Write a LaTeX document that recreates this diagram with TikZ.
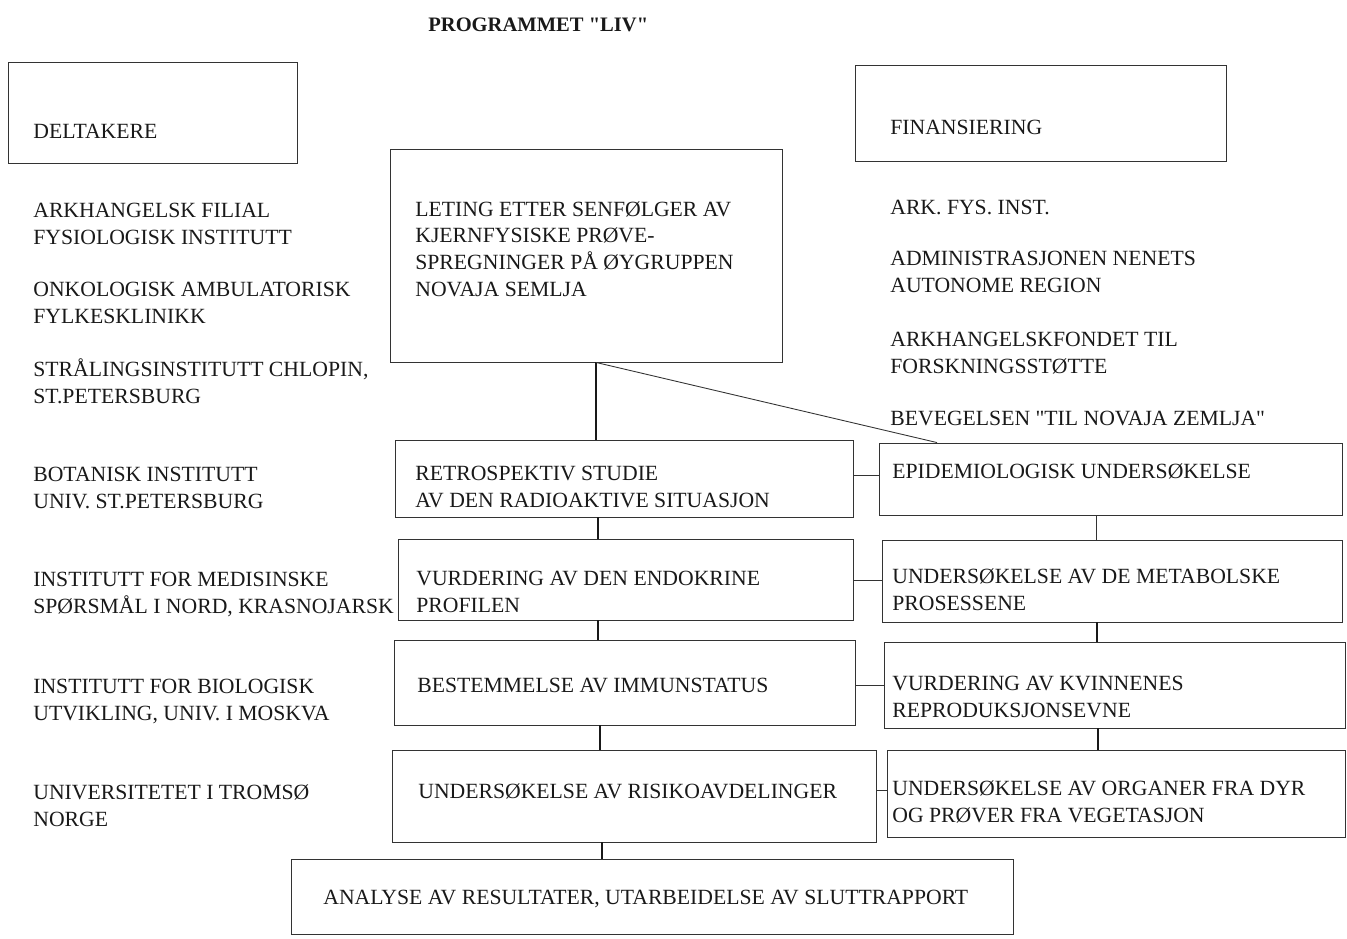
\documentclass[tikz,border=0pt]{standalone}
\usepackage{fontspec}
\setmainfont{Liberation Serif}[Ligatures=TeXOff]
\usepackage{xcolor}
\usetikzlibrary{positioning,fit,calc}

\tikzset{
  box/.style={draw=black!80, line width=0.5pt, inner sep=0pt},
  txt/.style={anchor=base west, align=left, inner sep=0pt, text=black!90, font=\fontsize{12.35}{15.1}\selectfont},
  link/.style={draw=black!80, line width=0.5pt},
  stem/.style={draw=black!90, line width=1pt}
}

\begin{document}
\begin{tikzpicture}[x=0.02cm, y=-0.02cm]
\useasboundingbox (0,0) rectangle (1347,938);

% Title
\node[txt, font=\fontsize{11.7}{14}\selectfont\bfseries] (title) at (428,31) {PROGRAMMET "LIV"};

% Header boxes
\node[box, fit={(8,62) (297,163)}] (deltakere) {};
\node[txt] (t-deltakere) at (33,138) {DELTAKERE};
\node[box, fit={(855,65) (1226,161)}] (finans) {};
\node[txt] (t-finans) at (890,134) {FINANSIERING};

% Participants (base = last line)
\node[txt] (p1) at (33,244) {ARKHANGELSK FILIAL\\FYSIOLOGISK INSTITUTT};
\node[txt] (p2) at (33,323) {ONKOLOGISK AMBULATORISK\\FYLKESKLINIKK};
\node[txt] (p3) at (33,403) {STRÅLINGSINSTITUTT CHLOPIN,\\ST.PETERSBURG};
\node[txt] (p4) at (33,508) {BOTANISK INSTITUTT\\UNIV. ST.PETERSBURG};
\node[txt] (p5) at (33,613) {INSTITUTT FOR MEDISINSKE\\SPØRSMÅL I NORD, KRASNOJARSK};
\node[txt] (p6) at (33,720) {INSTITUTT FOR BIOLOGISK\\UTVIKLING, UNIV. I MOSKVA};
\node[txt] (p7) at (33,826) {UNIVERSITETET I TROMSØ\\NORGE};

% Funding
\node[txt] (f1) at (890,214) {ARK. FYS. INST.};
\node[txt] (f2) at (890,292) {ADMINISTRASJONEN NENETS\\AUTONOME REGION};
\node[txt] (f3) at (890,373) {ARKHANGELSKFONDET TIL\\FORSKNINGSSTØTTE};
\node[txt] (f4) at (890,425) {BEVEGELSEN "TIL NOVAJA ZEMLJA"};

% Main project
\node[box, fit={(390,149) (782,362)}] (leting) {};
\node[txt] (t-leting) at (415,296) {LETING ETTER SENFØLGER AV\\KJERNFYSISKE PRØVE-\\SPREGNINGER PÅ ØYGRUPPEN\\NOVAJA SEMLJA};

% Middle column
\node[box, fit={(395,440) (853,517)}] (retro) {};
\node[txt] (t-retro) at (415,507) {RETROSPEKTIV STUDIE\\AV DEN RADIOAKTIVE SITUASJON};
\node[box, fit={(398,539) (853,620)}] (endokrin) {};
\node[txt] (t-endokrin) at (416,612) {VURDERING AV DEN ENDOKRINE\\PROFILEN};
\node[box, fit={(394,640) (855,725)}] (immun) {};
\node[txt] (t-immun) at (417,692) {BESTEMMELSE AV IMMUNSTATUS};
\node[box, fit={(392,750) (876,842)}] (risiko) {};
\node[txt] (t-risiko) at (418,798) {UNDERSØKELSE AV RISIKOAVDELINGER};
\node[box, fit={(291,859) (1013,934)}] (analyse) {};
\node[txt] (t-analyse) at (323,904) {ANALYSE AV RESULTATER, UTARBEIDELSE AV SLUTTRAPPORT};

% Right column
\node[box, fit={(879,443) (1342,515)}] (epidem) {};
\node[txt] (t-epidem) at (892,478) {EPIDEMIOLOGISK UNDERSØKELSE};
\node[box, fit={(882,540) (1342,622)}] (metabol) {};
\node[txt] (t-metabol) at (892,610) {UNDERSØKELSE AV DE METABOLSKE\\PROSESSENE};
\node[box, fit={(884,642) (1345,728)}] (reprod) {};
\node[txt] (t-reprod) at (892,717) {VURDERING AV KVINNENES\\REPRODUKSJONSEVNE};
\node[box, fit={(887,750) (1345,837)}] (organer) {};
\node[txt] (t-organer) at (892,822) {UNDERSØKELSE AV ORGANER FRA DYR\\OG PRØVER FRA VEGETASJON};

% Vertical links
\draw[stem] (leting.south -| 596,0) -- (retro.north -| 596,0);
\draw[link] (leting.south -| 596,0) -- (epidem.north -| 937,0);
\draw[stem] (retro.south -| 598,0) -- (endokrin.north -| 598,0);
\draw[stem] (endokrin.south -| 598,0) -- (immun.north -| 598,0);
\draw[stem] (immun.south -| 600,0) -- (risiko.north -| 600,0);
\draw[stem] (risiko.south -| 602,0) -- (analyse.north -| 602,0);
\draw[link] (epidem.south -| 1096,0) -- (metabol.north -| 1096,0);
\draw[stem] (metabol.south -| 1097,0) -- (reprod.north -| 1097,0);
\draw[stem] (reprod.south -| 1098,0) -- (organer.north -| 1098,0);

% Horizontal links
\draw[link] (retro.east |- 0,475) -- (epidem.west |- 0,475);
\draw[link] (endokrin.east |- 0,580) -- (metabol.west |- 0,580);
\draw[link] (immun.east |- 0,685) -- (reprod.west |- 0,685);
\draw[link] (risiko.east |- 0,790) -- (organer.west |- 0,790);
\end{tikzpicture}
\end{document}
